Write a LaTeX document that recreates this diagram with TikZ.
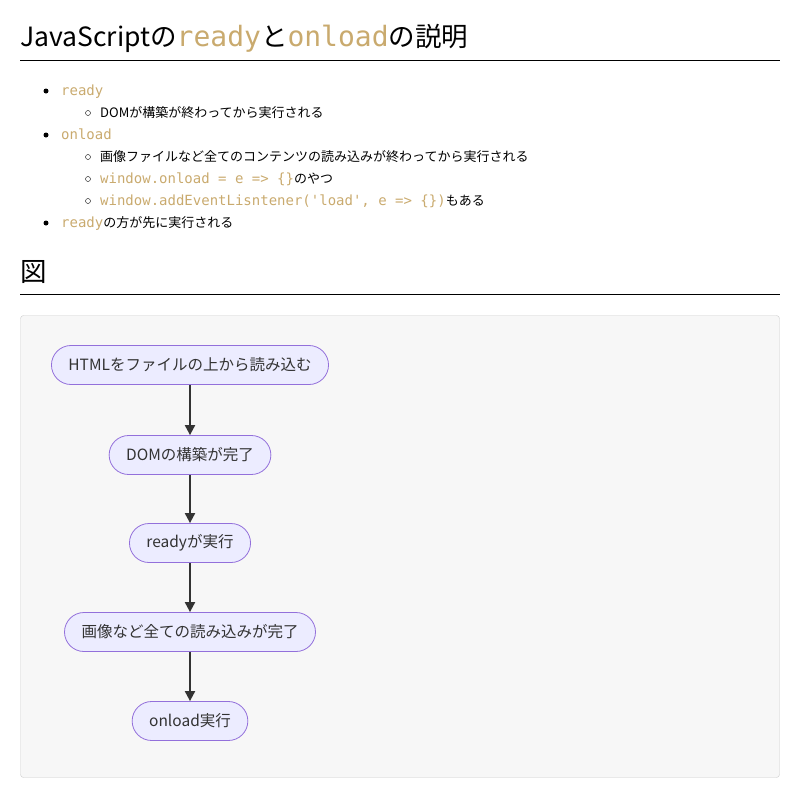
\documentclass[tikz,border=0pt]{standalone}
\usepackage{fontspec}
\setmainfont{Noto Sans CJK JP}
\setmonofont{DejaVu Sans Mono}
\usetikzlibrary{arrows.meta, positioning}
\definecolor{codegold}{HTML}{C9AA6E}
\definecolor{nodefill}{HTML}{ECECFF}
\definecolor{nodeline}{HTML}{9370DB}
\definecolor{edgegray}{HTML}{333333}
\definecolor{panelfill}{HTML}{F7F7F7}
\definecolor{panelline}{HTML}{CCCCCC}
\newcommand{\code}[1]{{\ttfamily\color{codegold}#1}}
\newcommand{\listcode}[1]{{\fontsize{14}{16}\selectfont\code{#1}}}

\begin{document}
\begin{tikzpicture}[x=1pt, y=-1pt,
		%inner sep=2mm,
		heading/.style={anchor=base west, inner sep=0pt, font=\fontsize{26.5}{30}\selectfont},
		item/.style={anchor=base west, inner sep=0pt, font=\fontsize{13}{16}\selectfont},
		stage/.style={draw=nodeline, fill=nodefill, thick, rounded corners=19.5pt, minimum height=39pt, inner xsep=17pt, text=edgegray, font=\fontsize{15.5}{18}\selectfont},
		flow/.style={draw=edgegray, line width=2pt, -{Triangle[length=10pt, width=10pt]}}
		]
		\useasboundingbox (0, 0) rectangle (800, 792);
		\node (title) at (20, 47) [heading] {JavaScriptの{\fontsize{28}{30}\selectfont\code{ready}}と{\fontsize{28}{30}\selectfont\code{onload}}の説明};
		\draw[line width=1pt] (20, 60.5) -- (780, 60.5);

		\fill (46, 91) circle (2.5pt);
		\node (ready item) at (61, 95.5) [item] {\listcode{ready}};
		\draw (88, 113) circle (2.5pt);
		\node (ready note) at (100, 117.5) [item] {DOMが構築が終わってから実行される};
		\fill (46, 135) circle (2.5pt);
		\node (onload item) at (61, 139.5) [item] {\listcode{onload}};
		\draw (88, 157) circle (2.5pt);
		\node (onload note) at (100, 161.5) [item] {画像ファイルなど全てのコンテンツの読み込みが終わってから実行される};
		\draw (88, 179) circle (2.5pt);
		\node (onload prop) at (100, 183.5) [item] {\listcode{window.onload = e => \{\}}のやつ};
		\draw (88, 201) circle (2.5pt);
		\node (onload listener) at (100, 205.5) [item] {\listcode{window.addEventLisntener('load', e => \{\})}もある};
		\fill (46, 223) circle (2.5pt);
		\node (order note) at (61, 227.5) [item] {\listcode{ready}の方が先に実行される};

		\node (figure title) at (20, 281) [heading] {図};
		\draw[line width=1pt] (20, 294.5) -- (780, 294.5);

		\draw[draw=panelline, fill=panelfill, rounded corners=3pt] (20.5, 315.5) rectangle (779.5, 777.5);

		\node (html load) at (190, 365) [stage] {HTMLをファイルの上から読み込む};
		\node (dom built) at (190, 455) [stage] {DOMの構築が完了};
		\node (ready run) at (190, 543) [stage] {readyが実行};
		\node (all loaded) at (190, 632) [stage] {画像など全ての読み込みが完了};
		\node (onload run) at (190, 721) [stage] {onload実行};

		\draw[flow] (html load) -- (dom built);
		\draw[flow] (dom built) -- (ready run);
		\draw[flow] (ready run) -- (all loaded);
		\draw[flow] (all loaded) -- (onload run);
	\end{tikzpicture}
\end{document}
